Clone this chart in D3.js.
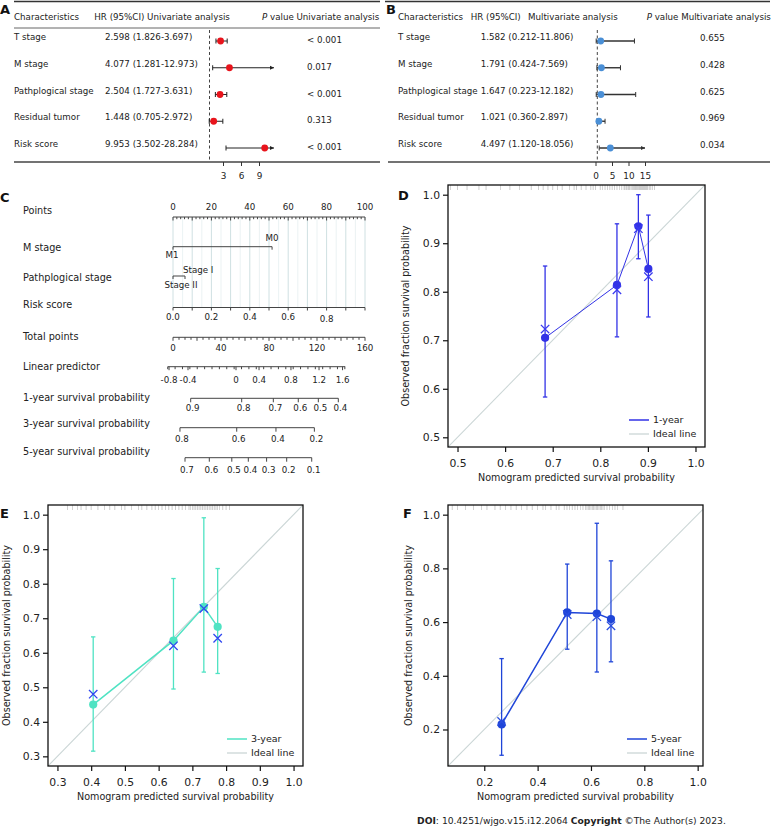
<!DOCTYPE html>
<html><head><meta charset="utf-8">
<script src="https://cdn.jsdelivr.net/npm/d3@7"></script>
<style>body{margin:0;background:#fff} svg{display:block} text{font-family:"DejaVu Sans",Verdana,sans-serif;fill:#222}</style>
</head><body><svg id="c" width="771" height="828"></svg>
<script>
// ---------------- DATA ----------------
const characteristics = ["T stage","M stage","Pathplogical stage","Residual tumor","Risk score"];
const uniHR = [2.598,4.077,2.504,1.448,9.953];
const uniLo = [1.826,1.281,1.727,0.705,3.502];
const uniHi = [3.697,12.973,3.631,2.972,28.284];
const uniP  = ["< 0.001","0.017","< 0.001","0.313","< 0.001"];
const uniTicks = [3,6,9];
const multiHR = [1.582,1.791,1.647,1.021,4.497];
const multiLo = [0.212,0.424,0.223,0.360,1.120];
const multiHi = [11.806,7.569,12.182,2.897,18.056];
const multiP  = ["0.655","0.428","0.625","0.969","0.034"];
const multiTicks = [0,5,10,15];

// nomogram
const nomoRows = ["Points","M stage","Pathplogical stage","Risk score","Total points","Linear predictor","1-year survival probability","3-year survival probability","5-year survival probability"];
const pointsTicks = [0,20,40,60,80,100];
const mStageLevels = ["M1","M0"];
const mStagePoints = [0,51.6];
const pathLevels = ["Stage II","Stage I"];
const pathPoints = [0,6.25];
const riskTicks = [0,0.2,0.4,0.6,0.8];
const totalTicks = [0,40,80,120,160];
const lpLabels = [-0.8,-0.4,0,0.4,0.8,1.2,1.6];
const lpAtTotal = [-3.3,12.5,52.5,71.7,98.3,121.7,141.3];
const surv1Labels = [0.9,0.8,0.7,0.6,0.5,0.4];
const surv1AtTotal = [14.75,57.25,83.6,104.4,121.1,137.75];
const surv3Labels = [0.8,0.6,0.4,0.2];
const surv3AtTotal = [5.8,53.1,85.8,117.8];
const surv5Labels = [0.7,0.6,0.5,0.4,0.3,0.2,0.1];
const surv5AtTotal = [10,30.25,49,62.75,78,94.75,115.6];

// calibration 1-year
const pred1 = [0.684,0.835,0.880,0.901];
const obs1  = [0.705,0.814,0.935,0.847];
const lo1   = [0.583,0.707,0.868,0.748];
const hi1   = [0.853,0.940,1.000,0.958];
const km1   = [0.723,0.804,0.930,0.831];
const rug1  = [0.485,0.50,0.52,0.545,0.56,0.59,0.61,0.63,0.655,0.67,0.68,0.69,0.70,0.71,0.72,0.735,0.745,0.75,0.76,0.77,0.78,0.785,0.79,0.80,0.805,0.81,0.815,0.82,0.825,0.83,0.835,0.84,0.845,0.85,0.852,0.855,0.858,0.86,0.862,0.865,0.868,0.87,0.872,0.874,0.876,0.878,0.88,0.882,0.884,0.886,0.888,0.89,0.892,0.894,0.896,0.898,0.90,0.903,0.906,0.91,0.914];
// calibration 3-year
const pred3 = [0.406,0.644,0.734,0.775];
const obs3  = [0.450,0.635,0.733,0.675];
const lo3   = [0.315,0.495,0.544,0.540];
const hi3   = [0.646,0.815,0.991,0.844];
const km3   = [0.480,0.620,0.728,0.642];
const rug3  = [0.33,0.345,0.36,0.37,0.385,0.40,0.42,0.44,0.455,0.47,0.49,0.50,0.52,0.54,0.55,0.565,0.58,0.59,0.60,0.61,0.62,0.63,0.64,0.65,0.66,0.67,0.68,0.69,0.695,0.70,0.705,0.71,0.715,0.72,0.725,0.73,0.735,0.74,0.745,0.75,0.755,0.76,0.765,0.77,0.775,0.78,0.79,0.80,0.81];
// calibration 5-year
const pred5 = [0.265,0.511,0.622,0.675];
const obs5  = [0.219,0.636,0.632,0.611];
const lo5   = [0.104,0.499,0.414,0.452];
const hi5   = [0.464,0.816,0.968,0.828];
const km5   = [0.230,0.628,0.620,0.586];
const rug5  = [0.08,0.10,0.13,0.16,0.19,0.21,0.24,0.26,0.28,0.30,0.32,0.34,0.36,0.38,0.40,0.42,0.43,0.45,0.47,0.48,0.50,0.51,0.52,0.53,0.54,0.55,0.56,0.57,0.58,0.585,0.59,0.595,0.60,0.605,0.61,0.615,0.62,0.625,0.63,0.635,0.64,0.645,0.65,0.66,0.67,0.68,0.69,0.70,0.72];

// ---------------- DRAW ----------------
const svg = d3.select("#c");
const F = "DejaVu Sans, Verdana, sans-serif";

function txt(g, x, y, s, opt={}) {
  return g.append("text").attr("x",x).attr("y",y).attr("dy","0.35em")
    .attr("font-size",opt.size||8.7).attr("text-anchor",opt.anchor||"start")
    .attr("font-weight",opt.weight||"normal").text(s);
}
function letter(x,y,s){ txt(svg,x,y,s,{size:13,weight:"bold"}).style("fill","#111"); }

function forest(cfg){
  const g = svg.append("g");
  const x = d3.scaleLinear().domain(cfg.dom).range(cfg.rng);
  const y = d3.scaleLinear().domain([0,4]).range([41,148]);
  const maxV = cfg.dom[1];
  g.append("line").attr("x1",cfg.l0).attr("x2",cfg.l1).attr("y1",1.5).attr("y2",1.5).attr("stroke","#333").attr("stroke-width",1.4);
  if (cfg.headLine) g.append("line").attr("x1",cfg.l0).attr("x2",cfg.l1).attr("y1",28).attr("y2",28).attr("stroke","#666").attr("stroke-width",1);
  g.append("line").attr("x1",cfg.b0).attr("x2",cfg.l1).attr("y1",162).attr("y2",162).attr("stroke","#444").attr("stroke-width",1.3);
  txt(g,cfg.labX,17,"Characteristics");
  cfg.heads.forEach(h=>txt(g,h[0],17,h[1]));
  const pt = g.append("text").attr("x",cfg.pHeadX).attr("y",17).attr("dy","0.35em").attr("font-size",8.7);
  pt.append("tspan").attr("font-style","italic").text("P");
  pt.append("tspan").text(" value "+cfg.pHeadTxt);
  g.append("line").attr("x1",x(1)-1.5).attr("x2",x(1)-1.5).attr("y1",30).attr("y2",162)
    .attr("stroke","#444").attr("stroke-dasharray","3,2.5").attr("stroke-width",1);
  characteristics.forEach((c,i)=>{
    const yy = y(i);
    txt(g,cfg.labX,yy-4,c);
    txt(g,cfg.hrX,yy-4,`${cfg.hr[i].toFixed(3)} (${cfg.lo[i].toFixed(3)}-${cfg.hi[i].toFixed(3)})`);
    txt(g,cfg.pX,yy+cfg.pOff,cfg.p[i]);
    const x0 = x(cfg.lo[i]), clipped = cfg.hi[i] > maxV, x1 = x(Math.min(cfg.hi[i],maxV));
    g.append("line").attr("x1",x0).attr("x2",x1).attr("y1",yy).attr("y2",yy).attr("stroke",cfg.ciCol).attr("stroke-width",cfg.ciW);
    g.append("line").attr("x1",x0).attr("x2",x0).attr("y1",yy-2.5).attr("y2",yy+2.5).attr("stroke",cfg.ciCol).attr("stroke-width",1);
    if (clipped) {
      g.append("path").attr("d",`M${x1},${yy}l-4,-2l0,4z`).attr("fill",cfg.ciCol);
    } else {
      g.append("line").attr("x1",x1).attr("x2",x1).attr("y1",yy-2.5).attr("y2",yy+2.5).attr("stroke",cfg.ciCol).attr("stroke-width",1);
    }
    g.append("circle").attr("cx",x(cfg.hr[i])).attr("cy",yy).attr("r",3.4).attr("fill",cfg.ptCol);
  });
  const ax = g.append("g").attr("transform","translate(0,162)")
    .call(d3.axisBottom(x).tickValues(cfg.ticks).tickSize(4).tickFormat(d3.format("d")));
  ax.select(".domain").remove();
  ax.selectAll("text").attr("font-size",8.9).attr("font-family",F).attr("dy","1.1em").style("fill","#222");
  ax.selectAll("line").attr("stroke","#333");
}

forest({dom:[0,11.5], rng:[205,274], l0:14, l1:380, b0:14, headLine:true,
  heads:[[94.3,"HR (95%CI) Univariate analysis"]], pHeadX:262, pHeadTxt:"Univariate analysis",
  labX:14, hrX:105, pX:307, pOff:-1, hr:uniHR, lo:uniLo, hi:uniHi, p:uniP, ticks:uniTicks,
  ciCol:"#222", ciW:1, ptCol:"#e8141c"});
forest({dom:[0,15], rng:[595.5,645], l0:385, l1:770, b0:388, headLine:false,
  heads:[[470.7,"HR (95%CI)"],[528,"Multivariate analysis"]], pHeadX:646.7, pHeadTxt:"Multivariate analysis",
  labX:398, hrX:480.7, pX:700, pOff:-3, hr:multiHR, lo:multiLo, hi:multiHi, p:multiP, ticks:multiTicks,
  ciCol:"#333", ciW:1.4, ptCol:"#4a8fd6"});
letter(0,9,"A"); letter(386,9,"B");

// ---------------- NOMOGRAM ----------------
(function(){
  const g = svg.append("g");
  const nx = d3.scaleLinear().domain([0,100]).range([173,365]);
  const tx = d3.scaleLinear().domain([0,160]).range([173,365]);
  const rx = d3.scaleLinear().domain([0,1]).range([173,365]);
  const rowY = [211,248,278,305,337,367,398,424,452];
  nomoRows.forEach((r,i)=>txt(g,23,rowY[i],r,{size:9.7}));
  const axCol = "#444";
  const L = (x1,y1,x2,y2,c=axCol,w=1)=>g.append("line").attr("x1",x1).attr("y1",y1).attr("x2",x2).attr("y2",y2).attr("stroke",c).attr("stroke-width",w);
  // grid
  d3.range(5,100,10).forEach(v=>L(nx(v),217,nx(v),307.5,"#e6eff0",0.8));
  d3.range(0,101,10).forEach(v=>L(nx(v),217,nx(v),307.5,"#cfe0e2",1));
  // points axis
  L(nx(0),217,nx(100),217);
  d3.range(0,101,2).forEach(v=>L(nx(v),217,nx(v),v%10===0?220.5:219.2));
  pointsTicks.forEach(v=>txt(g,nx(v),207,v,{anchor:"middle",size:8.7}));
  // M stage
  const my = 246.7;
  L(nx(mStagePoints[0]),my,nx(mStagePoints[1]),my);
  mStagePoints.forEach(v=>L(nx(v),my,nx(v),my+3));
  txt(g,nx(mStagePoints[1]),237.5,mStageLevels[1],{anchor:"middle",size:8.7});
  txt(g,nx(mStagePoints[0])-1,255,mStageLevels[0],{anchor:"middle",size:8.7});
  // Path stage
  const py = 276;
  L(nx(pathPoints[0]),py,nx(pathPoints[1]),py);
  pathPoints.forEach(v=>L(nx(v),py,nx(v),py+3));
  txt(g,nx(pathPoints[1])-2,270,pathLevels[1],{size:8.7});
  txt(g,nx(pathPoints[0])+8,284.5,pathLevels[0],{anchor:"middle",size:8.7});
  // risk score
  const ry = 307.5;
  L(rx(0),ry,rx(1),ry);
  d3.range(0,1.0001,0.1).forEach(v=>L(rx(v),ry,rx(v),ry+3));
  riskTicks.forEach(v=>txt(g,rx(v),v===0.8?319:317,v.toFixed(1),{anchor:"middle",size:8.7}));
  // total points
  const ty = 337.3;
  L(tx(0),ty,tx(160),ty);
  d3.range(0,161,5).forEach(v=>L(tx(v),ty,tx(v),ty+(v%20===0?3.5:2.5)));
  totalTicks.forEach(v=>txt(g,tx(v),348,v,{anchor:"middle",size:8.7}));
  // linear predictor
  const ly = 366.7;
  L(tx(-4.4),ly,tx(143.5),ly);
  d3.range(-4.4,144,6.15).forEach(v=>L(tx(v),ly,tx(v),ly+2.5));
  lpAtTotal.forEach((v,i)=>{L(tx(v),ly,tx(v),ly+3.5); txt(g,tx(v),380,lpLabels[i]===0?"0":lpLabels[i].toFixed(1),{anchor:"middle",size:8.7});});
  // survival axes
  function survAxis(at,labels,yy,labY){
    L(tx(at[0]),yy,tx(at[at.length-1]),yy);
    at.forEach((v,i)=>{L(tx(v),yy,tx(v),yy+4); txt(g,tx(v)+2,labY,labels[i].toFixed(1),{anchor:"middle",size:8.7});});
  }
  survAxis(surv1AtTotal,surv1Labels,398.3,408.3);
  survAxis(surv3AtTotal,surv3Labels,427.7,439.3);
  survAxis(surv5AtTotal,surv5Labels,457.7,470);
})();
letter(0,197,"C");

// ---------------- CALIBRATION ----------------
let clipN = 0;
function calib(c){
  const g = svg.append("g");
  const x = d3.scaleLinear().domain(c.xd).range([c.x0,c.x1]);
  const y = d3.scaleLinear().domain(c.yd).range([c.y1,c.y0]);
  const id = "clip"+(clipN++);
  g.append("clipPath").attr("id",id).append("rect").attr("x",c.x0).attr("y",c.y0).attr("width",c.x1-c.x0).attr("height",c.y1-c.y0);
  const inner = g.append("g").attr("clip-path",`url(#${id})`);
  inner.append("line").attr("x1",x(0)).attr("y1",y(0)).attr("x2",x(1.2)).attr("y2",y(1.2)).attr("stroke","#cbd6d6").attr("stroke-width",1.1);
  inner.selectAll(".rug").data(c.rug).join("line").attr("x1",d=>x(d)).attr("x2",d=>x(d)).attr("y1",c.y0).attr("y2",c.y0+5)
    .attr("stroke","#666").attr("stroke-width",0.6).attr("opacity",0.55);
  // error bars
  c.pred.forEach((p,i)=>{
    const xx = x(p);
    inner.append("line").attr("x1",xx).attr("x2",xx).attr("y1",y(c.lo[i])).attr("y2",y(c.hi[i])).attr("stroke",c.col).attr("stroke-width",1.3);
    [c.lo[i],c.hi[i]].forEach(v=>inner.append("line").attr("x1",xx-2.2).attr("x2",xx+2.2).attr("y1",y(v)).attr("y2",y(v)).attr("stroke",c.col).attr("stroke-width",1.3));
  });
  inner.append("path").datum(c.pred.map((p,i)=>[p,c.obs[i]]))
    .attr("d",d3.line().x(d=>x(d[0])).y(d=>y(d[1]))).attr("fill","none").attr("stroke",c.col).attr("stroke-width",c.lw);
  c.pred.forEach((p,i)=>{
    inner.append("circle").attr("cx",x(p)).attr("cy",y(c.obs[i])).attr("r",4.1).attr("fill",c.col);
    const xx = x(p), yy = y(c.km[i]), s = 4.2;
    inner.append("path").attr("d",`M${xx-s},${yy-s}L${xx+s},${yy+s}M${xx-s},${yy+s}L${xx+s},${yy-s}`)
      .attr("stroke",c.xcol).attr("stroke-width",1.3).attr("fill","none");
  });
  // box
  g.append("rect").attr("x",c.x0).attr("y",c.y0).attr("width",c.x1-c.x0).attr("height",c.y1-c.y0)
    .attr("fill","none").attr("stroke","#111").attr("stroke-width",1.3);
  const ax = g.append("g").attr("transform",`translate(0,${c.y1})`)
    .call(d3.axisBottom(x).tickValues(c.xt).tickSize(5).tickFormat(d3.format(".1f")));
  const ay = g.append("g").attr("transform",`translate(${c.x0},0)`)
    .call(d3.axisLeft(y).tickValues(c.yt).tickSize(5).tickFormat(d3.format(".1f")));
  [ax,ay].forEach(a=>{a.select(".domain").remove(); a.selectAll("line").attr("stroke","#111").attr("stroke-width",1.2);
    a.selectAll("text").attr("font-size",10.8).attr("font-family",F).style("fill","#222");});
  ax.selectAll("text").attr("dy","1.15em");
  // titles
  txt(g,(c.x0+c.x1)/2,c.y1+31,"Nomogram predicted survival probability",{anchor:"middle",size:9.6});
  g.append("text").attr("transform",`translate(${c.ytX},${(c.y0+c.y1)/2}) rotate(-90)`).attr("dy","0.35em")
    .attr("text-anchor","middle").attr("font-size",9.6).text("Observed fraction  survival probability");
  // legend
  const lx = c.x1-76, ly = c.y1-27;
  g.append("line").attr("x1",lx).attr("x2",lx+20).attr("y1",ly).attr("y2",ly).attr("stroke",c.col).attr("stroke-width",1.5);
  g.append("line").attr("x1",lx).attr("x2",lx+20).attr("y1",ly+14).attr("y2",ly+14).attr("stroke","#cbd6d6").attr("stroke-width",1.3);
  txt(g,lx+24,ly,c.label,{size:9.5});
  txt(g,lx+24,ly+14,"Ideal line",{size:9.5});
}

calib({x0:448,x1:705,y0:185,y1:447,xd:[0.48,1.02],yd:[0.48,1.02],xt:[0.5,0.6,0.7,0.8,0.9,1.0],yt:[0.5,0.6,0.7,0.8,0.9,1.0],
  pred:pred1,obs:obs1,lo:lo1,hi:hi1,km:km1,rug:rug1,col:"#3232e6",xcol:"#3a3af0",lw:1,label:"1-year",ytX:406});
calib({x0:48,x1:303,y0:505,y1:766,xd:[0.272,1.028],yd:[0.272,1.028],xt:[0.3,0.4,0.5,0.6,0.7,0.8,0.9,1.0],yt:[0.3,0.4,0.5,0.6,0.7,0.8,0.9,1.0],
  pred:pred3,obs:obs3,lo:lo3,hi:hi3,km:km3,rug:rug3,col:"#4fe3c3",xcol:"#3047f0",lw:1.5,label:"3-year",ytX:7});
calib({x0:448,x1:703,y0:505,y1:766,xd:[0.064,1.02],yd:[0.064,1.036],xt:[0.2,0.4,0.6,0.8,1.0],yt:[0.2,0.4,0.6,0.8,1.0],
  pred:pred5,obs:obs5,lo:lo5,hi:hi5,km:km5,rug:rug5,col:"#1f45d8",xcol:"#2a4de0",lw:1.5,label:"5-year",ytX:409});
letter(398,195,"D"); letter(0,513,"E"); letter(403,513,"F");

// DOI
const doi = svg.append("text").attr("x",417).attr("y",821).attr("dy","0.35em").attr("font-size",9.2);
doi.append("tspan").attr("font-weight","bold").text("DOI");
doi.append("tspan").text(": 10.4251/wjgo.v15.i12.2064 ");
doi.append("tspan").attr("font-weight","bold").text("Copyright");
doi.append("tspan").text(" ©The Author(s) 2023.");
</script></body></html>
